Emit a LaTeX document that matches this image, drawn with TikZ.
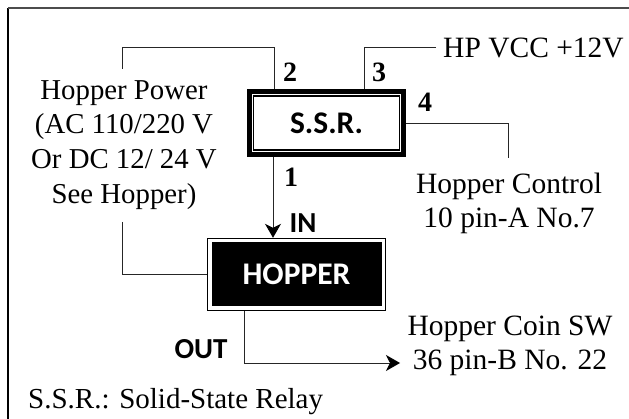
\documentclass[tikz,border=0pt]{standalone}
\usepackage{fontspec}
\setmainfont{Liberation Serif}
\newfontfamily\boxfont{Carlito}
\usetikzlibrary{positioning}
\usetikzlibrary{arrows.meta}
\tikzset{
  wire/.style={line width=0.9pt, black!85},
  arrowwire/.style={wire, -{Stealth[length=14pt,width=16pt,inset=4pt,black]}},
  caption/.style={font=\fontsize{29.5}{34}\selectfont, align=center, inner sep=0pt, anchor=north},
  pinno/.style={font=\fontsize{28}{28}\selectfont\bfseries, inner sep=0pt},
  boxlabel/.style={font=\fontsize{31.5}{32}\selectfont\boxfont\bfseries, inner sep=0pt},
  taglabel/.style={font=\fontsize{29}{29}\selectfont\boxfont\bfseries, inner sep=0pt},
}
\begin{document}
\begin{tikzpicture}[x=1pt,y=-1pt]
  \useasboundingbox (0,0) rectangle (629,419);
  % outer edges
  \coordinate (FL) at (8,419);
  \coordinate (FC) at (8,8.5);
  \coordinate (FR) at (629,8.5);
  \draw[line width=1.3pt, black] (FL) -- (FC);
  \draw[line width=2pt, black!70] (FC) -- (FR);

  \node[draw, line width=5pt, minimum width=154pt, minimum height=63pt, inner sep=0pt] (ssr) at (326.5,123) {};
  \node[draw, line width=1.3pt, minimum width=146pt, minimum height=54pt, inner sep=0pt, boxlabel] (ssrin) at (ssr) {S.S.R.};

  \node[draw, line width=1.4pt, minimum width=178pt, minimum height=72pt, inner sep=0pt] (hop) at (296.5,274.5) {};
  \node[fill=black, text=white, minimum width=170pt, minimum height=64pt, inner sep=0pt, boxlabel] (hopin) at (hop) {HOPPER};

  \node[caption, font=\fontsize{28.8}{34.8}\selectfont] (power) at (124,80) {Hopper Power\\(AC 110/220 V\\Or DC 12/ 24 V\\See Hopper)};
  \node[caption, anchor=base west] (vcc) at (443,58) {HP VCC +12V};
  \node[caption] (ctrl) at (509,173) {Hopper Control\\10 pin-A No.7};
  \node[caption] (coin) at (510,316) {Hopper Coin SW\\36 pin-B No. 22};
  \node[caption, anchor=base west, font=\fontsize{29}{34}\selectfont] (note) at (28,408) {S.S.R.: Solid-State Relay};

  \node[pinno] (p2) at (290,72) {2};
  \node[pinno] (p3) at (379,72) {3};
  \node[pinno] (p4) at (425,102) {4};
  \node[pinno] (p1) at (291,177) {1};
  \node[taglabel] (in) at (303,223) {IN};
  \node[taglabel] (out) at (201,349) {OUT};

  \coordinate (T2) at (274,47);
  \coordinate (T3) at (364,47);
  \coordinate (E3) at (436,47);
  \coordinate (C4) at (508,123);
  \coordinate (B4) at (508,158);
  \coordinate (L1) at (122,222);
  \coordinate (L2) at (122,69);
  \coordinate (O1) at (244,363);
  \coordinate (O2) at (400,363);

  \draw[wire] (L2) |- (T2) -- (T2 |- ssr.north);
  \draw[wire] (E3) -- (T3) -- (T3 |- ssr.north);
  \draw[wire] (ssr.east) -- (C4) -- (B4);
  \draw[arrowwire] (ssr.south -| 273,0) -- (hop.north -| 273,0);
  \draw[wire] (L1) |- (hop.west);
  \draw[arrowwire] (hop.south -| O1) -- (O1) -- (O2);
\end{tikzpicture}
\end{document}
